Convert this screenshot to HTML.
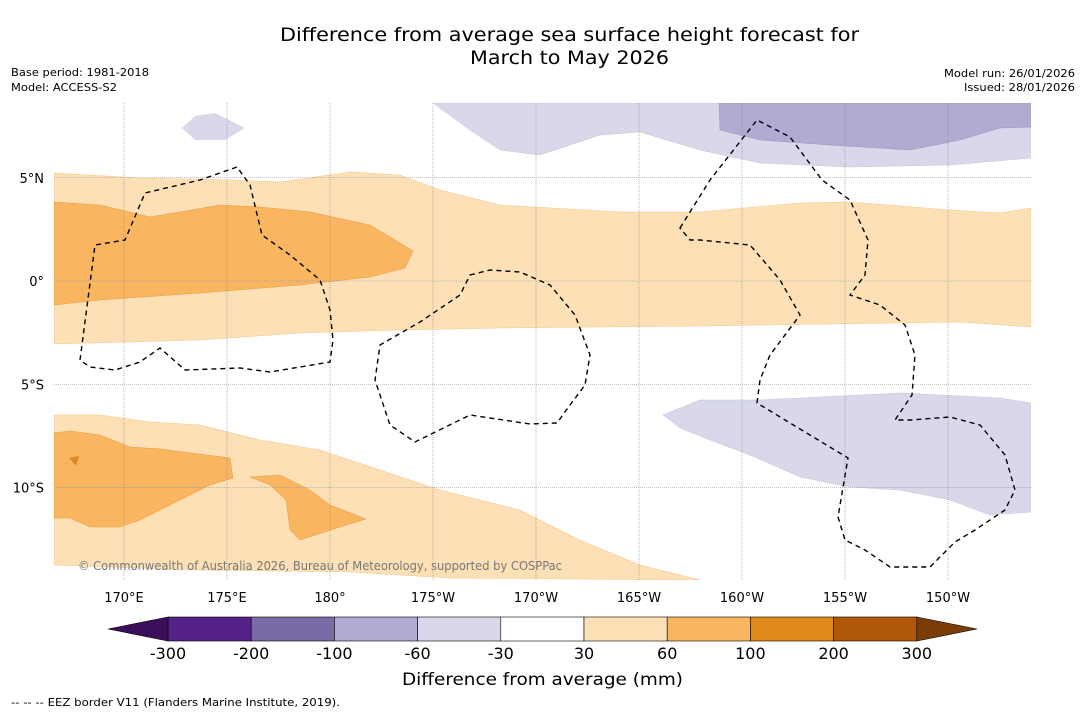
<!DOCTYPE html>
<html><head><meta charset="utf-8"><style>
body{margin:0;background:#fff;font-family:"DejaVu Sans",sans-serif}
svg text{font-family:"DejaVu Sans","Liberation Sans",sans-serif}
</style></head><body>
<svg id="s" width="1085" height="713" viewBox="0 0 1085 713">
<rect width="1085" height="713" fill="#fff"/>
<text x="280" y="41" font-size="19" textLength="579" lengthAdjust="spacingAndGlyphs">Difference from average sea surface height forecast for</text>
<text x="470" y="64" font-size="19" textLength="199" lengthAdjust="spacingAndGlyphs">March to May 2026</text>
<text x="11" y="76" font-size="11" textLength="138" lengthAdjust="spacingAndGlyphs">Base period: 1981-2018</text>
<text x="11" y="91" font-size="11" textLength="106" lengthAdjust="spacingAndGlyphs">Model: ACCESS-S2</text>
<text x="944" y="77" font-size="11" textLength="131" lengthAdjust="spacingAndGlyphs">Model run: 26/01/2026</text>
<text x="964" y="91" font-size="11" textLength="111" lengthAdjust="spacingAndGlyphs">Issued: 28/01/2026</text>
<g id="map">
<clipPath id="c"><rect x="54" y="103" width="977" height="477"/></clipPath>
<g clip-path="url(#c)" stroke-width="0.5">
<path fill="#fde0b6" stroke="#f3c58a" d="M54,173 L140,178 230,180 280,182 350,172 400,175 440,190 500,205 620,212 700,212 800,203 850,202 950,210 1000,213 1031,208 1031,327 960,322 700,326 500,328 400,330 300,333 200,340 54,344Z"/>
<path fill="#f9b55f" stroke="#e6993f" d="M54,202 L100,205 150,217 220,205 260,207 310,212 370,225 395,240 413,251 405,268 370,277 300,285 200,293 100,300 54,305Z"/>
<path fill="#d8d8ea" stroke="#c4c4dc" d="M433,103 L470,130 500,150 540,155 600,135 640,132 700,150 760,163 850,167 950,165 1031,158 1031,103Z"/>
<path fill="#b1abd2" stroke="#9a94c0" d="M719,103 L720,130 760,140 830,145 910,150 960,140 1000,128 1031,127 1031,103Z"/>
<path fill="#d8d8ea" d="M182,128 L195,116 215,113 245,128 225,140 195,140Z"/>
<path fill="#d8d8ea" stroke="#c4c4dc" d="M663,415 L700,400 760,400 900,393 1000,398 1031,403 1031,512 990,515 950,500 900,490 850,487 800,477 750,455 710,440 680,428Z"/>
<path fill="#fde0b6" stroke="#f3c58a" d="M54,415 L100,415 150,422 200,425 260,440 320,450 380,470 440,490 520,510 580,540 640,565 700,580 450,578 350,572 200,570 54,565Z"/>
<path fill="#f9b55f" stroke="#e6993f" d="M54,433 L70,431 100,435 130,447 160,449 230,458 233,478 210,485 180,500 140,520 120,527 90,527 70,518 54,518Z"/>
<path fill="#f9b55f" stroke="#e6993f" d="M250,477 L280,475 310,490 330,505 366,519 340,527 300,540 290,530 286,500 270,485Z"/>
<path fill="#e08a1e" d="M69,458 L79,456 76,466Z"/>
</g>
<g id="grid" stroke="#888" stroke-width="0.6" stroke-dasharray="1,1"></g>
<g fill="none" stroke="#000" stroke-width="1.4" stroke-dasharray="5,4">
<path d="M80,360 L95,245 125,240 145,193 200,180 237,167 250,185 262,235 290,255 320,280 330,310 333,340 330,362 270,372 240,368 185,370 160,348 140,362 115,370 90,367Z"/>
<path d="M470,275 L490,270 520,272 550,285 575,315 590,355 585,385 570,405 557,423 530,424 470,415 415,442 390,425 375,380 380,345 420,322 460,295Z"/>
<path d="M680,228 L710,180 757,120 790,137 822,180 850,200 868,240 865,275 850,295 880,305 905,325 915,355 912,395 895,420 910,420 950,417 980,425 1005,455 1015,490 1005,510 975,530 955,542 930,567 890,567 865,550 845,540 838,517 848,458 757,403 760,380 770,355 800,315 780,280 750,245 700,240 690,240Z"/>
</g>
<text x="78" y="570" font-size="12" fill="#777" textLength="484" lengthAdjust="spacingAndGlyphs">© Commonwealth of Australia 2026, Bureau of Meteorology, supported by COSPPac</text>
<g id="ticks" font-size="13"></g>
</g>
<g id="cbar"></g>
<text x="402" y="685" font-size="17" textLength="281" lengthAdjust="spacingAndGlyphs">Difference from average (mm)</text>
<text x="11" y="706" font-size="11" textLength="329" lengthAdjust="spacingAndGlyphs">--  --  -- EEZ border V11 (Flanders Marine Institute, 2019).</text>
</svg>
<script>
const lonTicks=[170,175,180,-175,-170,-165,-160,-155,-150];
const lonLabels=["170°E","175°E","180°","175°W","170°W","165°W","160°W","155°W","150°W"];
const latTicks=[5,0,-5,-10];
const latLabels=["5°N","0°","5°S","10°S"];
const levels=[-300,-200,-100,-60,-30,30,60,100,200,300];
const colors=["#552288","#7b6aa8","#b1abd2","#d8d8ea","#ffffff","#fde0b6","#f9b55f","#e08a1e","#b0580a"];
const extColors=["#3b0f5c","#7a3d06"];
const NS="http://www.w3.org/2000/svg";
function xLon(l){const e=l<0?l+360:l;return 124+(e-170)*20.6;}
function yLat(a){return 281-a*20.65;}
function mk(t,a,p){const e=document.createElementNS(NS,t);for(const k in a)e.setAttribute(k,a[k]);p.appendChild(e);return e;}
const grid=document.getElementById('grid'),ticks=document.getElementById('ticks');
lonTicks.forEach((l,i)=>{const x=xLon(l);
const ln=mk('line',{x1:x,x2:x,y1:103,y2:580},grid);


const t=mk('text',{x:x,y:602,'text-anchor':'middle'},ticks);t.textContent=lonLabels[i];

});
latTicks.forEach((a,i)=>{const y=yLat(a);
const ln=mk('line',{x1:54,x2:1031,y1:y,y2:y},grid);


const t=mk('text',{x:44,y:y+5,'text-anchor':'end'},ticks);t.textContent=latLabels[i];

});
const cb=document.getElementById('cbar');
const x0=168,w=83.2,y0=617,h=24;
colors.forEach((c,i)=>{const r=mk('rect',{x:x0+i*w,y:y0,width:w,height:h,fill:c,stroke:'#000','stroke-width':0.6},cb);

});
const xe=x0+colors.length*w;
const t1=mk('polygon',{points:`${x0},${y0} 108,${y0+h/2} ${x0},${y0+h}`,fill:extColors[0],stroke:'#000','stroke-width':0.6},cb);


const t2=mk('polygon',{points:`${xe},${y0} 977,${y0+h/2} ${xe},${y0+h}`,fill:extColors[1],stroke:'#000','stroke-width':0.6},cb);


levels.forEach((v,i)=>{const t=mk('text',{x:x0+i*w,y:659,'font-size':16,'text-anchor':'middle'},cb);t.textContent=v;

});
</script>
</body></html>
